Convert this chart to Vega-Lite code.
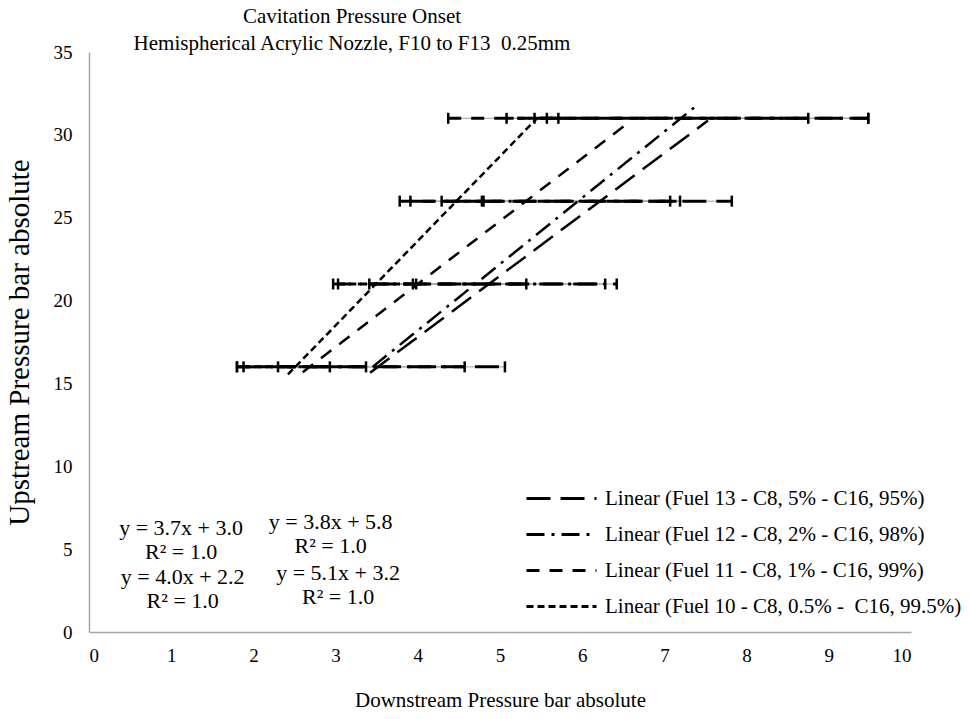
{
  "$schema": "https://vega.github.io/schema/vega-lite/v6.json",
  "width": 822,
  "height": 580,
  "autosize": "none",
  "padding": {"left": 89, "top": 52, "right": 58, "bottom": 87},
  "background": "white",
  "config": {
    "font": "Liberation Serif",
    "view": {"stroke": null},
    "axis": {
      "grid": false, "ticks": false, "domainColor": "#a6a6a6", "domainWidth": 1.5,
      "labelFont": "Liberation Serif", "labelFontSize": 19, "labelColor": "black",
      "titleFont": "Liberation Serif", "titleFontSize": 21, "titleFontWeight": "normal", "titleColor": "black"
    }
  },
  "title": {
    "text": ["Cavitation Pressure Onset", "Hemispherical Acrylic Nozzle, F10 to F13\u00a0 0.25mm"],
    "anchor": "middle", "dx": -148, "offset": -11,
    "font": "Liberation Serif", "fontSize": 21, "fontWeight": "normal", "color": "black", "lineHeight": 27
  },
  "datasets": {
    "bars": [
      {"fuel": "F10", "y": 16, "lo": 1.88, "hi": 2.93},
      {"fuel": "F11", "y": 16, "lo": 1.80, "hi": 3.37},
      {"fuel": "F12", "y": 16, "lo": 2.30, "hi": 4.57},
      {"fuel": "F13", "y": 16, "lo": 1.80, "hi": 5.06},
      {"fuel": "F10", "y": 21, "lo": 3.03, "hi": 3.94},
      {"fuel": "F11", "y": 21, "lo": 3.98, "hi": 5.32},
      {"fuel": "F12", "y": 21, "lo": 2.97, "hi": 6.42},
      {"fuel": "F13", "y": 21, "lo": 3.41, "hi": 6.28},
      {"fuel": "F10", "y": 26, "lo": 4.29, "hi": 4.78},
      {"fuel": "F11", "y": 26, "lo": 3.78, "hi": 7.07},
      {"fuel": "F12", "y": 26, "lo": 4.80, "hi": 7.19},
      {"fuel": "F13", "y": 26, "lo": 3.91, "hi": 7.82},
      {"fuel": "F10", "y": 31, "lo": 5.08, "hi": 5.71},
      {"fuel": "F11", "y": 31, "lo": 4.37, "hi": 8.75},
      {"fuel": "F12", "y": 31, "lo": 5.42, "hi": 9.48},
      {"fuel": "F13", "y": 31, "lo": 5.57, "hi": 9.48}
    ],
    "trends": [
      {"fuel": "F13", "x": 3.42, "y": 15.65},
      {"fuel": "F13", "x": 7.53, "y": 30.86},
      {"fuel": "F12", "x": 3.45, "y": 16.0},
      {"fuel": "F12", "x": 7.41, "y": 31.84},
      {"fuel": "F11", "x": 2.6, "y": 15.68},
      {"fuel": "F11", "x": 6.53, "y": 30.61},
      {"fuel": "F10", "x": 2.42, "y": 15.54},
      {"fuel": "F10", "x": 5.45, "y": 31.0}
    ],
    "eqs": [
      {"eq": "y = 3.7x + 3.0\nR² = 1.0", "x": 1.12, "y": 6.3},
      {"eq": "y = 3.8x + 5.8\nR² = 1.0", "x": 2.94, "y": 6.66},
      {"eq": "y = 4.0x + 2.2\nR² = 1.0", "x": 1.14, "y": 3.34},
      {"eq": "y = 5.1x + 3.2\nR² = 1.0", "x": 3.03, "y": 3.58}
    ]
  },
  "layer": [
    {
      "data": {"name": "bars"},
      "mark": {"type": "rule", "color": "#a0a0a0", "strokeWidth": 1},
      "encoding": {
        "x": {"field": "lo", "type": "quantitative", "scale": {"domain": [0, 10], "nice": false}, "axis": {"values": [0,1,2,3,4,5,6,7,8,9,10], "format": "d", "title": "Downstream Pressure bar absolute", "labelPadding": 14, "titlePadding": 24}},
        "x2": {"field": "hi"},
        "y": {"field": "y", "type": "quantitative", "scale": {"domain": [0, 35], "nice": false}, "axis": {"values": [0,5,10,15,20,25,30,35], "format": "d", "title": "Upstream Pressure bar absolute", "titleFontSize": 29, "labelPadding": 17, "titlePadding": 19}}
      }
    },
    {
      "data": {"name": "bars"},
      "mark": {"type": "rule", "color": "black", "strokeWidth": 3},
      "encoding": {
        "x": {"field": "lo", "type": "quantitative"},
        "x2": {"field": "hi"},
        "y": {"field": "y", "type": "quantitative"},
        "strokeDash": {"field": "fuel", "type": "nominal"}
      }
    },
    {
      "data": {"name": "bars"},
      "mark": {"type": "tick", "orient": "vertical", "color": "black", "size": 11, "thickness": 2.5, "opacity": 1},
      "encoding": {
        "x": {"field": "lo", "type": "quantitative"},
        "y": {"field": "y", "type": "quantitative"}
      }
    },
    {
      "data": {"name": "bars"},
      "mark": {"type": "tick", "orient": "vertical", "color": "black", "size": 11, "thickness": 2.5, "opacity": 1},
      "encoding": {
        "x": {"field": "hi", "type": "quantitative"},
        "y": {"field": "y", "type": "quantitative"}
      }
    },
    {
      "data": {"name": "trends"},
      "mark": {"type": "line", "color": "black", "strokeWidth": 2.5},
      "encoding": {
        "x": {"field": "x", "type": "quantitative"},
        "y": {"field": "y", "type": "quantitative"},
        "detail": {"field": "fuel"},
        "strokeDash": {
          "field": "fuel", "type": "nominal",
          "scale": {"domain": ["F13", "F12", "F11", "F10"], "range": [[24, 10], [18, 7, 3, 7], [13, 10], [7, 4]]},
          "legend": {
            "orient": "none", "legendX": 459, "legendY": 433, "title": null,
            "symbolType": "M-3,0H3", "symbolSize": 544, "symbolStrokeWidth": 3, "symbolStrokeColor": "black", "symbolFillColor": "transparent",
            "labelFont": "Liberation Serif", "labelFontSize": 21, "labelColor": "black", "labelLimit": 600, "labelOffset": 30,
            "rowPadding": 12,
            "labelExpr": "datum.label == 'F13' ? 'Linear (Fuel 13 - C8, 5% - C16, 95%)' : datum.label == 'F12' ? 'Linear (Fuel 12 - C8, 2% - C16, 98%)' : datum.label == 'F11' ? 'Linear (Fuel 11 - C8, 1% - C16, 99%)' : 'Linear (Fuel 10 - C8, 0.5% -\u00a0 C16, 99.5%)'"
          }
        }
      }
    },
    {
      "data": {"name": "eqs"},
      "mark": {"type": "text", "font": "Liberation Serif", "fontSize": 22, "color": "black", "align": "center", "baseline": "middle", "lineBreak": "\n", "lineHeight": 24},
      "encoding": {
        "x": {"field": "x", "type": "quantitative"},
        "y": {"field": "y", "type": "quantitative"},
        "text": {"field": "eq"}
      }
    }
  ]
}
